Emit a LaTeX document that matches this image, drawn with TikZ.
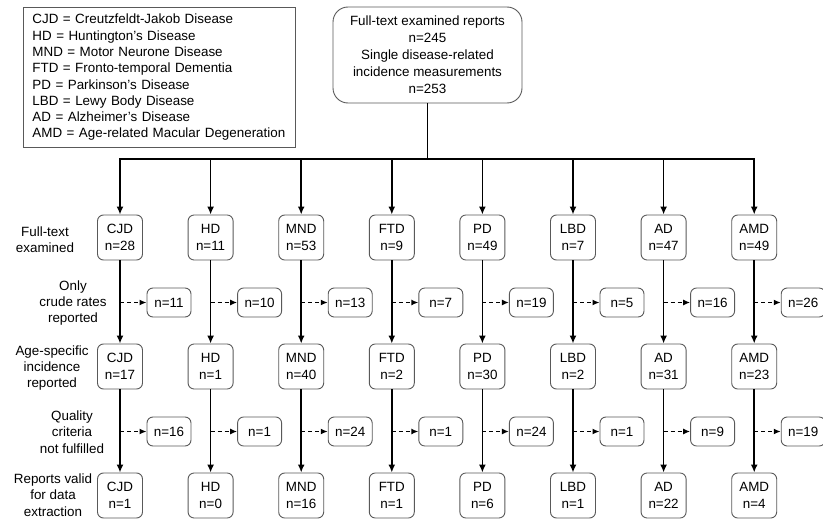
\documentclass[tikz,border=0pt]{standalone}
\usepackage{fontspec}
\setmainfont{Liberation Sans}
\usetikzlibrary{arrows.meta}
\tikzset{
  txt/.style={font=\fontsize{13.4}{17}\selectfont, align=center, inner sep=0pt},
  dbox/.style={txt, draw=black!65, line width=0.9pt, rounded corners=6pt, minimum width=45pt, minimum height=45pt},
  sbox/.style={txt, draw=black!65, line width=0.9pt, rounded corners=6pt, minimum width=44pt, minimum height=29pt},
  flow/.style={line width=1.7pt, -{Latex[length=8pt,width=7pt]}},
  dflow/.style={line width=1.4pt, dash pattern=on 4pt off 3pt, -{Latex[length=7pt,width=6pt]}},
  lbl/.style={txt, font=\fontsize{13.4}{16.3}\selectfont}
}
\begin{document}
\begin{tikzpicture}[x=1pt,y=-1pt]
\useasboundingbox (0,0) rectangle (823,519);
\clip (0,0) rectangle (823,519);

% legend
\node[draw=black!65, line width=0.9pt, anchor=north west, minimum width=272pt, minimum height=140pt,
      inner xsep=9pt, text width=254pt, align=left, font=\fontsize{13.4}{16.3}\selectfont] (legend) at (23,7)
 {CJD = Creutzfeldt-Jakob Disease\\
  HD = Huntington's Disease\\
  MND = Motor Neurone Disease\\
  FTD = Fronto-temporal Dementia\\
  PD = Parkinson's Disease\\
  LBD = Lewy Body Disease\\
  AD = Alzheimer's Disease\\
  AMD = Age-related Macular Degeneration};

% top box
\node[txt, draw=black!65, line width=0.9pt, rounded corners=15pt, minimum width=189pt, minimum height=96pt] (top) at (427.5,55)
 {Full-text examined reports\\n=245\\Single disease-related\\incidence measurements\\n=253};
\coordinate (bus) at (427.5,159);

% row labels
\node[lbl] (l1) at (45,240) {Full-text\\examined};
\node[lbl] (l2) at (73,303) {Only\\crude rates\\reported};
\node[lbl] (l3) at (52,368) {Age-specific\\incidence\\reported};
\node[lbl] (l4) at (72,432) {Quality\\criteria\\not fulfilled};
\node[lbl] (l5) at (53,495) {Reports valid\\for data\\extraction};

% columns
\foreach \i/\nm/\a/\b/\c/\d/\e [count=\k from 0] in
  {1/CJD/28/11/17/16/1, 2/HD/11/10/1/1/0, 3/MND/53/13/40/24/16, 4/FTD/9/7/2/1/1,
   5/PD/49/19/30/24/6, 6/LBD/7/5/2/1/1, 7/AD/47/16/31/9/22, 8/AMD/49/26/23/19/4}{
  \pgfmathsetmacro{\cx}{120+90.6*\k}
  \node[dbox] (a\i) at (\cx,237.5) {\nm\\n=\a};
  \node[sbox] (s\i) at (\cx+49,302.5) {n=\b};
  \node[dbox] (b\i) at (\cx,366.5) {\nm\\n=\c};
  \node[sbox] (q\i) at (\cx+49,431.5) {n=\d};
  \node[dbox] (c\i) at (\cx,495.5) {\nm\\n=\e};
  \draw[flow] (a\i.north |- bus) -- (a\i.north);
  \draw[flow] (a\i.south) -- (b\i.north);
  \draw[flow] (b\i.south) -- (c\i.north);
  \draw[dflow] (s\i.west -| a\i.south) -- (s\i.west);
  \draw[dflow] (q\i.west -| b\i.south) -- (q\i.west);
}

% bus
\draw[line width=1.7pt] (top.south) -- (bus);
\draw[line width=1.7pt, line cap=rect] (a1.north |- bus) -- (a8.north |- bus);
\end{tikzpicture}
\end{document}
